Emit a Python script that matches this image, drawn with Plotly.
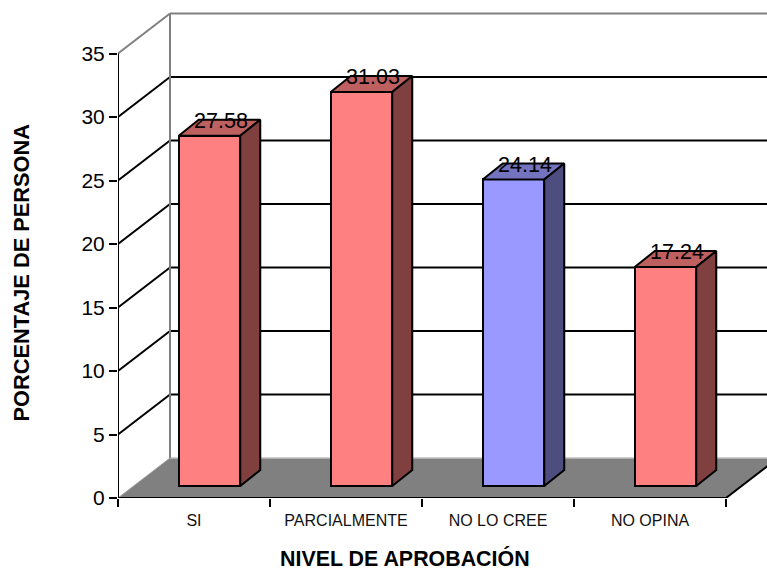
import plotly.graph_objects as go

# Survey results
categories = ["SI", "PARCIALMENTE", "NO LO CREE", "NO OPINA"]
values = [27.58, 31.03, 24.14, 17.24]
front_colors = ["#FF8080", "#FF8080", "#9999FF", "#FF8080"]
top_colors = ["#BF6060", "#BF6060", "#7373BF", "#BF6060"]
side_colors = ["#804040", "#804040", "#4D4D80", "#804040"]
y_ticks = [0, 5, 10, 15, 20, 25, 30, 35]
x_edges = [0, 1, 2, 3, 4]

# Oblique projection, in pixels, converted to axis units below
WIDTH, HEIGHT = 767, 571
LEFT, BOTTOM = 118, 73
PX_PER_CAT = 152.0
PX_PER_UNIT = 444.5 / 35
X_MAX = (WIDTH - LEFT) / PX_PER_CAT
Y_MAX = (HEIGHT - BOTTOM) / PX_PER_UNIT
AXIS_Y = HEIGHT - BOTTOM


def ux(px):
    return px / PX_PER_CAT


def uy(px):
    return px / PX_PER_UNIT


WALL_DX, WALL_DY = ux(52), uy(40)
BAR_DX, BAR_DY = ux(15.5), uy(12)
BAR_W = ux(61.5)
DEPTH_DX, DEPTH_DY = ux(20), uy(16)

shapes = []


def seg(x0, y0, x1, y1, color="black", width=2):
    shapes.append(dict(type="line", xref="x", yref="y", x0=x0, y0=y0, x1=x1, y1=y1,
                       layer="below", line=dict(color=color, width=width)))


# Floor
shapes.append(dict(type="path", xref="x", yref="y", layer="below",
                   path=f"M 0 0 L {WALL_DX} {WALL_DY} L {4 + WALL_DX} {WALL_DY} L 4 0 Z",
                   fillcolor="#808080", line=dict(width=0)))
seg(WALL_DX, WALL_DY, X_MAX, WALL_DY, "#C0C0C0", 1.5)
seg(0, 0, WALL_DX, WALL_DY, "#A0A0A0", 1)
seg(4, 0, 4 + WALL_DX, WALL_DY, "black", 2)

# Gridlines across both walls
for t in y_ticks[1:-1]:
    seg(0, t, WALL_DX, t + WALL_DY)
    seg(WALL_DX, t + WALL_DY, X_MAX, t + WALL_DY)

# Wall outline
seg(0, 35, WALL_DX, 35 + WALL_DY, "#808080", 2)
seg(WALL_DX, 35 + WALL_DY, X_MAX, 35 + WALL_DY, "#808080", 2)
seg(WALL_DX, WALL_DY, WALL_DX, 35 + WALL_DY, "#808080", 2)

centers = [i + 0.5 + BAR_DX for i in range(len(categories))]

fig = go.Figure()

# Front faces
fig.add_trace(go.Bar(
    x=centers, y=values, base=BAR_DY, width=BAR_W,
    marker=dict(color=front_colors, line=dict(color="black", width=2)),
    hoverinfo="skip", showlegend=False))

# Top and side faces
for c, v, tc, sc in zip(centers, values, top_colors, side_colors):
    l, r = c - BAR_W / 2, c + BAR_W / 2
    b, t = BAR_DY, v + BAR_DY
    fig.add_trace(go.Scatter(
        x=[l, r, r + DEPTH_DX, l + DEPTH_DX, l],
        y=[t, t, t + DEPTH_DY, t + DEPTH_DY, t],
        mode="lines", fill="toself", fillcolor=tc,
        line=dict(color="black", width=2), hoverinfo="skip", showlegend=False))
    fig.add_trace(go.Scatter(
        x=[r, r + DEPTH_DX, r + DEPTH_DX, r, r],
        y=[b, b + DEPTH_DY, t + DEPTH_DY, t, b],
        mode="lines", fill="toself", fillcolor=sc,
        line=dict(color="black", width=2), hoverinfo="skip", showlegend=False))

# Axis lines
fig.add_trace(go.Scatter(x=[0, 0], y=[0, 35], mode="lines", cliponaxis=False,
                         line=dict(color="black", width=2), hoverinfo="skip", showlegend=False))
fig.add_trace(go.Scatter(x=[0, 4], y=[0, 0], mode="lines", cliponaxis=False,
                         line=dict(color="black", width=2), hoverinfo="skip", showlegend=False))

# Value labels
fig.add_trace(go.Scatter(
    x=[c + ux(11.5) for c in centers],
    y=[v + BAR_DY + uy(13) for v in values],
    text=[f"{v:.2f}" for v in values],
    mode="text", textposition="middle center",
    textfont=dict(family="Liberation Sans", size=21.5, color="black"),
    hoverinfo="skip", showlegend=False))

fig.update_layout(
    width=WIDTH, height=HEIGHT, autosize=False,
    margin=dict(l=LEFT, r=0, t=0, b=BOTTOM, pad=0),
    paper_bgcolor="white", plot_bgcolor="white",
    shapes=shapes, showlegend=False, bargap=0,
    font=dict(family="Liberation Sans", color="black"),
    xaxis=dict(range=[0, X_MAX], showgrid=False, zeroline=False, showline=False,
               tickmode="array", tickvals=[i + 0.5 for i in range(len(categories))],
               ticktext=categories, ticks="", ticklabelstandoff=11,
               tickfont=dict(size=16, color="#111111"),
               minor=dict(tickmode="array", tickvals=x_edges, ticks="outside",
                          ticklen=8, tickwidth=2, tickcolor="black", showgrid=False)),
    yaxis=dict(range=[0, Y_MAX], showgrid=False, zeroline=False, showline=False,
               tickmode="array", tickvals=y_ticks, ticks="outside",
               ticklen=8, tickwidth=2, tickcolor="black",
               tickfont=dict(size=21, color="black")),
    annotations=[
        dict(text="<b>NIVEL DE APROBACIÓN</b>", xref="paper", yref="paper",
             x=(405 - LEFT) / (WIDTH - LEFT), y=-(558.8 - AXIS_Y) / AXIS_Y, showarrow=False,
             xanchor="center", yanchor="middle", font=dict(size=21.4)),
        dict(text="<b>PORCENTAJE DE PERSONA</b>", xref="paper", yref="paper",
             x=-(118 - 21) / (WIDTH - LEFT), y=(AXIS_Y - 272.5) / AXIS_Y, showarrow=False,
             textangle=-90, xanchor="center", yanchor="middle", font=dict(size=21.8)),
    ],
)

fig.write_html("out.html")
